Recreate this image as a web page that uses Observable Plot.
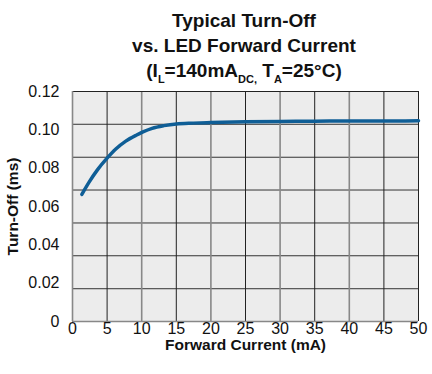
<!DOCTYPE html>
<html>
<head>
<meta charset="utf-8">
<script src="https://cdn.jsdelivr.net/npm/d3@7"></script>
<script src="https://cdn.jsdelivr.net/npm/@observablehq/plot@0.6"></script>
<style>
  html, body { margin: 0; padding: 0; background: #fff; }
  #wrap { width: 432px; height: 374px; position: relative; overflow: hidden; }
  #title {
    height: 80px; box-sizing: border-box; padding-top: 8px; padding-left: 56px;
    text-align: center; font-family: "Liberation Sans", Arial, sans-serif;
    font-weight: bold; font-size: 19px; line-height: 25px; color: #111;
  }
  #title .sub { font-size: 11px; position: relative; top: 6px; line-height: 0; }
</style>
</head>
<body>
<div id="wrap">
  <div id="title">Typical Turn-Off<br>vs. LED Forward Current<br>(I<span class="sub">L</span>=140mA<span class="sub">DC,</span> T<span class="sub">A</span>=25°C)</div>
  <div id="chart"></div>
</div>
<script>
// Curve
const current = [1.35, 2.4, 3.6, 5.0, 6.3, 7.7, 9.2, 10.1, 11.5, 13.2, 15.0, 17.5, 20, 25, 30, 35, 40, 45, 50];
const turnOff = [0.0663, 0.0727, 0.0791, 0.0852, 0.0901, 0.0941, 0.0972, 0.0988, 0.1008, 0.1022, 0.1031, 0.1035, 0.1038, 0.1042, 0.1044, 0.1045, 0.1046, 0.1046, 0.1047];

// Axis ticks and labels
const xTicks = [0, 5, 10, 15, 20, 25, 30, 35, 40, 45, 50];
const yTicks = [0, 0.02, 0.04, 0.06, 0.08, 0.10, 0.12];
const yTickLabels = ["0", "0.02", "0.04", "0.06", "0.08", "0.10", "0.12"];

// Grid lines as drawn in the reference (7 horizontal bands)
const gridY = [0.0171, 0.0343, 0.0514, 0.0686, 0.0857, 0.1029];
const gridXMajor = [10, 20, 30, 40];
const gridXMinor = [5, 15, 25, 35, 45];

const xLabel = "Forward Current (mA)";
const yLabel = "Turn-Off (ms)";

const data = current.map((c, i) => ({x: c, y: turnOff[i]}));

const chart = Plot.plot({
  width: 432,
  height: 294,
  marginTop: 11,
  marginRight: 14,
  marginBottom: 53,
  marginLeft: 72,
  style: {fontFamily: "'Liberation Sans', Arial, sans-serif", fontSize: "16px", color: "#111", background: "#fff", overflow: "visible"},
  x: {domain: [0, 50]},
  y: {domain: [0, 0.12]},
  marks: [
    Plot.frame({fill: "#ececec", stroke: null}),
    Plot.ruleY(gridY, {stroke: "#333", strokeWidth: 1}),
    Plot.ruleX(gridXMinor, {stroke: "#222", strokeWidth: 1}),
    Plot.ruleX(gridXMajor, {stroke: "#888", strokeWidth: 1.6}),
    Plot.ruleY([0.12], {stroke: "#222", strokeWidth: 1}),
    Plot.ruleX([50], {stroke: "#222", strokeWidth: 1}),
    Plot.ruleX([0], {stroke: "#888", strokeWidth: 1.6}),
    Plot.ruleY([0], {stroke: "#888", strokeWidth: 1.6}),
    Plot.line(data, {x: "x", y: "y", stroke: "#0f5e96", strokeWidth: 3.5, curve: "monotone-x"}),
    Plot.axisY({ticks: yTicks, tickSize: 0, tickPadding: 13, fontSize: 16, tickFormat: d => yTickLabels[yTicks.indexOf(d)], label: null}),
    Plot.axisX({ticks: xTicks, tickSize: 0, tickPadding: 1, fontSize: 16, label: null}),
    Plot.text([xLabel], {frameAnchor: "bottom", lineAnchor: "top", dy: 17, fontWeight: "bold", fontSize: 15.5, fill: "#111"}),
    Plot.text([yLabel], {frameAnchor: "left", rotate: -90, textAnchor: "middle", lineAnchor: "middle", dx: -59, fontWeight: "bold", fontSize: 15.5, fill: "#111"})
  ]
});
document.getElementById("chart").appendChild(chart);
</script>
</body>
</html>
